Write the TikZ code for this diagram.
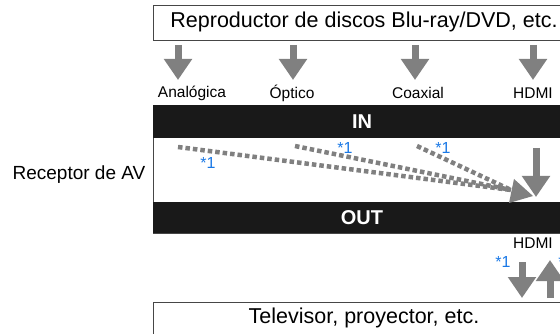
\documentclass[tikz,border=0pt]{standalone}
\usepackage{fontspec}
\setmainfont{Liberation Sans}
\usetikzlibrary{arrows.meta}
\definecolor{arrgray}{RGB}{128,128,128}
\definecolor{noteblue}{RGB}{25,120,230}
\definecolor{boxline}{RGB}{70,70,70}
\tikzset{
  bigtxt/.style={font=\fontsize{21.5}{25}\selectfont, inner sep=0pt},
  lbltxt/.style={font=\fontsize{15.5}{18}\selectfont, inner sep=0pt},
  bartxt/.style={font=\fontsize{20}{24}\selectfont\bfseries, text=white, inner sep=0pt},
  note/.style={font=\fontsize{16}{18}\selectfont, text=noteblue, inner sep=0pt},
  frame/.style={draw=boxline, line width=1pt, fill=white, inner sep=0pt},
  garrow/.style={draw=arrgray, line width=7pt, -{Triangle[width=27pt,length=21pt]}},
  dotline/.style={draw=arrgray, line width=4.5pt, dash pattern=on 4.5pt off 3pt},
}
\begin{document}
\begin{tikzpicture}[x=1pt,y=-1pt]
\useasboundingbox (0,0) rectangle (560,334);
\clip (0,0) rectangle (560,334);
% source box
\node[frame, anchor=north west, minimum width=430pt, minimum height=35pt] (srcbox) at (153,5) {};
\node[bigtxt] (src) at (364,22) {Reproductor de discos Blu-ray/DVD, etc.};
% labels
\node[lbltxt] (lana) at (192,93) {Analógica};
\node[lbltxt] (lopt) at (292,93) {Óptico};
\node[lbltxt] (lcoa) at (418,93) {Coaxial};
\node[lbltxt] (lhin) at (533,93) {HDMI};
% top arrows
\coordinate (s1) at (178,45); \coordinate (e1) at (178,80);
\coordinate (s2) at (293,45); \coordinate (e2) at (293,80);
\coordinate (s3) at (415,45); \coordinate (e3) at (415,80);
\coordinate (s4) at (533,45); \coordinate (e4) at (533,80);
\draw[garrow] (s1) -- (e1);
\draw[garrow] (s2) -- (e2);
\draw[garrow] (s3) -- (e3);
\draw[garrow] (s4) -- (e4);
% receiver
\node[frame, anchor=north west, minimum width=430pt, minimum height=128pt] (rec) at (153,105) {};
\fill[black!90] (153,105) rectangle (583,138);
\fill[black!90] (153,202) rectangle (583,233);
\node[bartxt] (in) at (362,122) {IN};
\node[bartxt] (out) at (362,218) {OUT};
\node[font=\fontsize{19}{22}\selectfont, inner sep=0pt] (reclbl) at (79,175) {Receptor de AV};
% dotted converging lines
\coordinate (d1) at (178,147);
\coordinate (d2) at (295,146);
\coordinate (d3) at (417,146);
\coordinate (dend) at (511,190);
\draw[dotline] (d1) -- (dend);
\draw[dotline] (d2) -- (dend);
\draw[dotline] (d3) -- (dend);
\fill[arrgray] (514,179) -- (533,196) -- (509,203) -- cycle;
% solid pass-through arrow
\coordinate (h1) at (536,148); \coordinate (h2) at (536,197);
\draw[garrow] (h1) -- (h2);
% notes
\node[note] (n1) at (208,163) {*1};
\node[note] (n2) at (345,148) {*1};
\node[note] (n3) at (443,148) {*1};
\node[note] (n4) at (503,262) {*1};
\node[note] (n5) at (566,262) {*1};
% output
\node[lbltxt] (lhout) at (533,243) {HDMI};
\coordinate (o1) at (522,262); \coordinate (o2) at (522,298);
\coordinate (u1) at (550,298); \coordinate (u2) at (550,260);
\draw[garrow] (o1) -- (o2);
\draw[garrow] (u1) -- (u2);
% tv box
\node[frame, anchor=north west, minimum width=430pt, minimum height=45pt] (tvbox) at (153,302) {};
\node[bigtxt] (tv) at (364,318) {Televisor, proyector, etc.};
\end{tikzpicture}
\end{document}
